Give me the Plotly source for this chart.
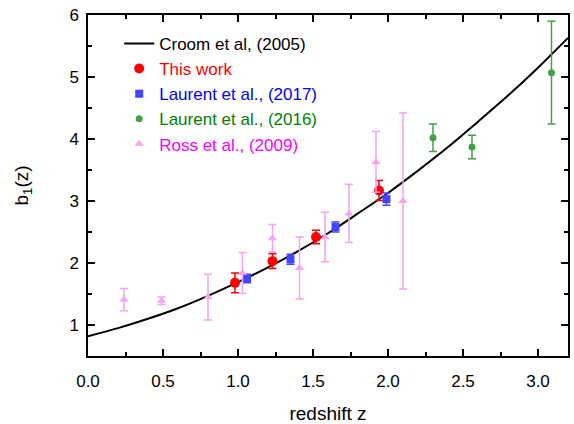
import plotly.graph_objects as go

# Croom et al. (2005) curve
croom_z = [0.0, 0.2, 0.4, 0.6, 0.8, 1.0, 1.2, 1.4, 1.6, 1.8, 2.0, 2.2, 2.4, 2.6, 2.8, 3.0, 3.2]
croom_b = [0.82, 0.95, 1.10, 1.27, 1.47, 1.69, 1.93, 2.19, 2.48, 2.80, 3.13, 3.49, 3.87, 4.28, 4.70, 5.15, 5.63]

# This work
this_z = [0.98, 1.23, 1.52, 1.94]
this_b = [1.68, 2.03, 2.42, 3.17]
this_err = [0.16, 0.12, 0.11, 0.16]

# Laurent et al. (2017)
l17_z = [1.06, 1.35, 1.65, 1.99]
l17_b = [1.75, 2.06, 2.58, 3.03]
l17_err = [0.07, 0.08, 0.08, 0.10]

# Laurent et al. (2016)
l16_z = [2.30, 2.56, 3.09]
l16_b = [4.02, 3.87, 5.07]
l16_err = [0.22, 0.19, 0.83]

# Ross et al. (2009)
ross_z = [0.24, 0.49, 0.80, 1.03, 1.23, 1.41, 1.58, 1.74, 1.92, 2.10]
ross_b = [1.41, 1.39, 1.45, 1.84, 2.40, 1.92, 2.42, 2.80, 3.63, 3.00]
ross_err = [0.18, 0.06, 0.37, 0.33, 0.22, 0.50, 0.40, 0.47, 0.49, 1.42]

fig = go.Figure()

fig.add_trace(go.Scatter(
    x=croom_z, y=croom_b, mode="lines", line=dict(color="black", width=2, shape="spline"),
    name="Croom et al, (2005)"))


def points(x, y, err, name, color, text_color, symbol, size):
    return go.Scatter(
        x=x, y=y, mode="markers",
        marker=dict(color=color, symbol=symbol, size=size),
        error_y=dict(type="data", array=err, color=color, thickness=1.5, width=4),
        name=f"<span style='color:{text_color}'>{name}</span>")


fig.add_trace(points(this_z, this_b, this_err, "This work", "#ff0000", "#ff0000", "circle", 10))
fig.add_trace(points(l17_z, l17_b, l17_err, "Laurent et al., (2017)", "#4444ff", "#0000ff", "square", 8))
fig.add_trace(points(l16_z, l16_b, l16_err, "Laurent et al., (2016)", "#44a044", "#008000", "circle", 7))
fig.add_trace(points(ross_z, ross_b, ross_err, "Ross et al., (2009)", "#f4a4f0", "#ff00ff", "triangle-up", 8))

axis_common = dict(
    showline=True, linecolor="black", linewidth=1.5, mirror="allticks",
    ticks="inside", ticklen=7, tickwidth=1.5, tickcolor="black",
    showgrid=False, zeroline=False, automargin=False,
    ticklabeloverflow="allow",
    tickfont=dict(size=17, color="black"),
)

fig.update_xaxes(
    range=[0, 3.2], dtick=0.5, tickformat=".1f", ticklabelstandoff=9,
    minor=dict(ticks="inside", dtick=0.25, ticklen=4, tickwidth=1.5, tickcolor="black"),
    title=dict(text="redshift z", font=dict(size=19, color="black"), standoff=17),
    **axis_common)
fig.update_yaxes(
    range=[0.5, 6], dtick=1, ticklabelstandoff=4,
    minor=dict(ticks="inside", dtick=0.5, ticklen=4, tickwidth=1.5, tickcolor="black"),
    title=dict(text="b<sub>1</sub>(z)", font=dict(size=19, color="black"), standoff=36),
    **axis_common)

fig.update_layout(
    width=574, height=424,
    margin=dict(l=88, r=6, t=15, b=68),
    paper_bgcolor="white", plot_bgcolor="white",
    font=dict(family="Liberation Sans, Arial, sans-serif", color="black"),
    legend=dict(x=0.065, y=0.968, xanchor="left", yanchor="top",
                bgcolor="rgba(0,0,0,0)", font=dict(size=17)),
)

# drop the default page margin so the figure sits at the window's corner
fig.write_html("out.html", config={"displayModeBar": False},
               post_script="document.body.style.margin='0';")
